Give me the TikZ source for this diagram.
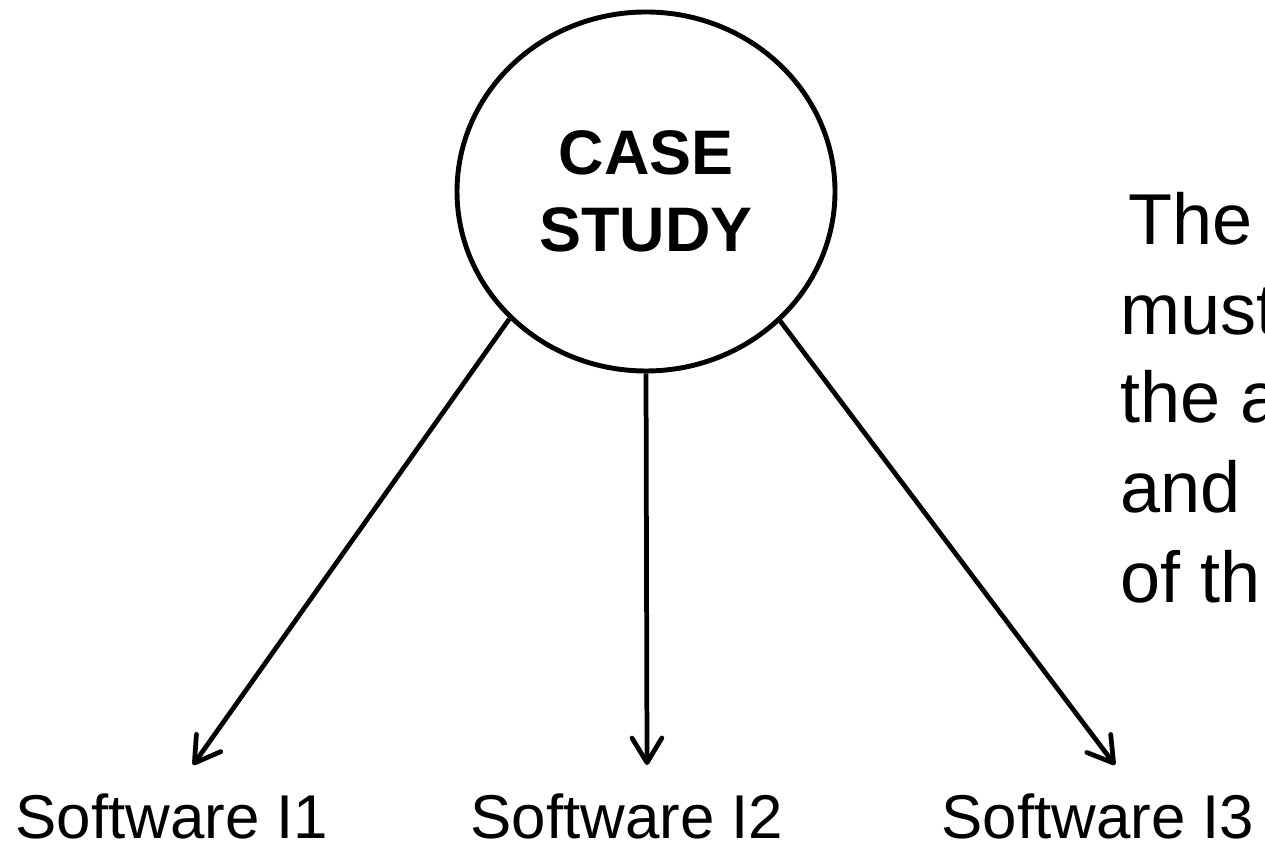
\documentclass[tikz,border=0pt]{standalone}
\usepackage{fontspec}
\setmainfont{Liberation Sans}
\usepackage{tikz}
\usetikzlibrary{arrows.meta}
\usetikzlibrary{shapes.geometric}

\begin{document}
\begin{tikzpicture}[line width=1.4pt,
    link/.style={-{Straight Barb[length=7pt,width=8.5pt,line cap=round,line join=round]}, line width=1.35pt},
    soft/.style={anchor=base, inner sep=0pt, font=\fontsize{17.6}{21}\selectfont},
    side/.style={anchor=base west, inner sep=0pt, font=\fontsize{20.5}{25}\selectfont}]
      \useasboundingbox (0,0) rectangle (12.65,-8.44);
      \clip (0,0) rectangle (12.65,-8.44);
      \node[draw, ellipse, minimum width=3.78cm, minimum height=3.59cm, inner sep=0pt,
            align=center, font=\fontsize{17.9}{21.9}\selectfont\bfseries] (cs) at (6.46,-1.915) {CASE\\STUDY};
      \coordinate (t1) at (1.93,-7.65);
      \coordinate (t2) at (6.47,-7.65);
      \coordinate (t3) at (11.15,-7.65);
      \draw[link] (cs.223.4) -- (t1);
      \draw[link] (cs.south) -- (t2);
      \draw[link] (cs.316.2) -- (t3);
      \node[soft] (s1) at (1.72,-8.38) {Software I1};
      \node[soft] (s2) at (6.27,-8.38) {Software I2};
      \node[soft] (s3) at (10.98,-8.38) {Software I3};
      % text running off the right edge
      \foreach \i/\x/\y/\t in {1/11.26/-2.45/The, 2/11.18/-3.35/must, 3/11.18/-4.23/the a, 4/11.18/-5.13/and, 5/11.18/-6.03/of th}
        \node[side] (r\i) at (\x,\y) {\t};
\end{tikzpicture}
\end{document}
